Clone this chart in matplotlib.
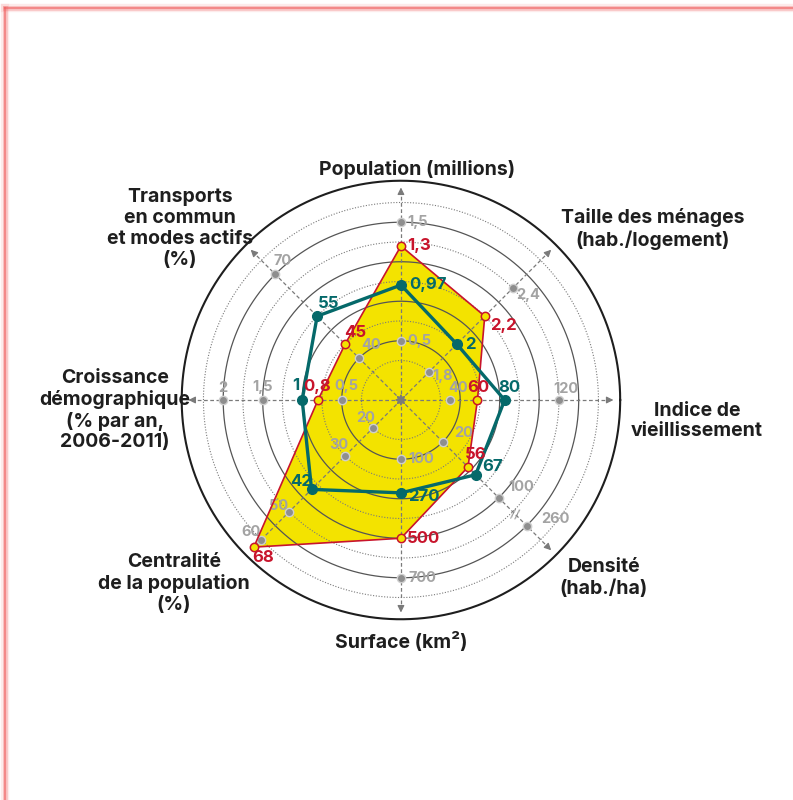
import numpy as np
import matplotlib
matplotlib.use("Agg")
import matplotlib.pyplot as plt
from matplotlib.lines import Line2D

# axes of the radar, clockwise from the top
axis_labels = [
    "Population (millions)",
    "Taille des ménages\n(hab./logement)",
    "Indice de\nvieillissement",
    "Densité\n(hab./ha)",
    "Surface (km²)",
    "Centralité\nde la population\n(%)",
    "Croissance\ndémographique\n(% par an,\n2006-2011)",
    "Transports\nen commun\net modes actifs\n(%)",
]

# two territories compared
series_red = [1.3, 2.2, 60, 56, 500, 68, 0.8, 45]
series_teal = [0.97, 2, 80, 67, 270, 42, 1, 55]

# reference ticks shown on each axis
axis_ticks = [
    [0.5, 1.5],
    [1.8, 2.4],
    [40, 120],
    [20, 100, 260],
    [100, 700],
    [20, 30, 50, 60],
    [0.5, 1.5, 2],
    [40, 70],
]

# each axis has its own (piecewise linear) scale: value -> ring unit
scale_v = [
    [0.5, 1.5],
    [1.8, 2.4],
    [40, 120],
    [20, 100, 260],
    [100, 700],
    [20, 30, 50, 60, 75],
    [0.5, 1.5, 2],
    [40, 70],
]
scale_r = [
    [3, 9],
    [2, 8],
    [2.5, 8],
    [3, 7, 9],
    [3, 9],
    [2, 4, 8, 10, 11],
    [3, 7, 9],
    [3, 9],
]

YELLOW = "#F3E300"
RED = "#C8142C"
TEAL = "#05696A"
GREY = "#8E8E8E"
GREY_TXT = "#A3A3A3"
DARK = "#1E1E1E"
FONT = "Inter"

n = len(axis_labels)
angles = np.deg2rad(90 - 45 * np.arange(n))


def to_r(i, v):
    return np.interp(v, scale_v[i], scale_r[i])


def xy(i, v):
    r = to_r(i, v)
    return r * np.cos(angles[i]), r * np.sin(angles[i])


def fmt(v):
    return f"{v:g}".replace(".", ",")


fig = plt.figure(figsize=(7.93, 8), dpi=100)
ax = fig.add_axes([0, 0, 1, 1])
ax.set_xlim(-20.30, 19.85)
ax.set_ylim(-20.25, 20.25)
ax.axis("off")

# frame
for lw, a in [(6, 0.12), (3.5, 0.25), (1.6, 0.6)]:
    fig.add_artist(Line2D([5 / 793, 1], [1 - 8 / 800, 1 - 8 / 800], color="#F06060",
                          lw=lw, alpha=a, transform=fig.transFigure))
    fig.add_artist(Line2D([5 / 793, 5 / 793], [0, 1 - 8 / 800], color="#F06060",
                          lw=lw, alpha=a, transform=fig.transFigure))

# red / yellow polygon
pts_red = np.array([xy(i, v) for i, v in enumerate(series_red)])
ax.fill(pts_red[:, 0], pts_red[:, 1], color=YELLOW, zorder=1, lw=0)

# rings
t = np.linspace(0, 2 * np.pi, 400)
for u in range(2, 11):
    if u % 2:
        ax.plot(u * np.cos(t), u * np.sin(t), color="#555555", lw=0.9, zorder=2)
    else:
        ax.plot(u * np.cos(t), u * np.sin(t), color="#7A7A7A", lw=0.8, ls=(0, (1, 1.5)), zorder=2)
ax.plot(11.1 * np.cos(t), 11.1 * np.sin(t), color=DARK, lw=1.5, zorder=2)

# axis lines with arrows
for i in range(n):
    c, s = np.cos(angles[i]), np.sin(angles[i])
    ax.plot([0, 10.6 * c], [0, 10.6 * s], color="#7A7A7A", lw=0.9, ls=(0, (3, 2)), zorder=3)
    ax.annotate("", xy=(10.9 * c, 10.9 * s), xytext=(10.4 * c, 10.4 * s),
                arrowprops=dict(arrowstyle="-|>", color="#7A7A7A", lw=0.9, mutation_scale=10),
                zorder=3)
    ax.annotate("", xy=(0.45 * c, 0.45 * s), xytext=(0, 0),
                arrowprops=dict(arrowstyle="-|>", color="#7A7A7A", lw=0.8, mutation_scale=7),
                zorder=3)

# break mark on the density axis
bx, by = 8.15 * np.cos(angles[3]), 8.15 * np.sin(angles[3])
ax.text(bx, by, "//", fontsize=9, color="#8A8A8A", ha="center", va="center",
        rotation=-10, zorder=3)

# tick markers and labels
tick_offsets = [
    [(6, 0, "left"), (6, 0, "left")],
    [(3, -4, "left"), (4, -7, "left")],
    [(8, 12, "center"), (7, 11, "center")],
    [(21, 9, "center"), (22, 11, "center"), (29, 7, "center")],
    [(7, 0, "left"), (8, 0, "left")],
    [(-7, 10, "center"), (-6, 11, "center"), (-11, 6, "center"), (-10, 8, "center")],
    [(5, 14, "center"), (0, 13, "center"), (0, 12, "center")],
    [(12, 13, "center"), (7, 13, "center")],
]
for i, ticks in enumerate(axis_ticks):
    for k, v in enumerate(ticks):
        x, y = xy(i, v)
        ax.plot(x, y, "o", ms=6, color=GREY, mec="#CFCFCF", mew=1, zorder=4)
        dx, dy, ha = tick_offsets[i][k]
        ax.annotate(fmt(v), (x, y), xytext=(dx, dy), textcoords="offset pixels",
                    ha=ha, va="center", fontsize=10.5, fontweight="bold",
                    color=GREY_TXT, family=FONT, zorder=4)

# red series outline and markers
ax.plot(np.append(pts_red[:, 0], pts_red[0, 0]), np.append(pts_red[:, 1], pts_red[0, 1]),
        color=RED, lw=1.2, zorder=5)
ax.plot(pts_red[:, 0], pts_red[:, 1], "o", ms=6, mfc=YELLOW, mec=RED, mew=1.1, zorder=7)

# teal series
pts_teal = np.array([xy(i, v) for i, v in enumerate(series_teal)])
ax.plot(np.append(pts_teal[:, 0], pts_teal[0, 0]), np.append(pts_teal[:, 1], pts_teal[0, 1]),
        color=TEAL, lw=2.4, zorder=6)
ax.plot(pts_teal[:, 0], pts_teal[:, 1], "o", ms=7, color=TEAL, zorder=7)

red_offsets = [(6, 0, "left"), (5, -9, "left"), (1, 13, "center"), (8, 13, "center"),
               (6, 0, "left"), (9, -10, "center"), (-1, 14, "center"), (10, 12, "center")]
teal_offsets = [(8, 1, "left"), (8, 0, "left"), (5, 12, "center"), (17, 8, "center"),
                (7, -4, "left"), (-10, 8, "center"), (-6, 15, "center"), (11, 13, "center")]
for i in range(n):
    dx, dy, ha = red_offsets[i]
    ax.annotate(fmt(series_red[i]), pts_red[i], xytext=(dx, dy), textcoords="offset pixels",
                ha=ha, va="center", fontsize=12, fontweight="bold", color=RED,
                family=FONT, zorder=8)
    dx, dy, ha = teal_offsets[i]
    ax.annotate(fmt(series_teal[i]), pts_teal[i], xytext=(dx, dy), textcoords="offset pixels",
                ha=ha, va="center", fontsize=12, fontweight="bold", color=TEAL,
                family=FONT, zorder=8)

# axis titles
label_pos = [(0.81, 11.65), (12.76, 8.66), (14.99, -1.06), (10.28, -9.01),
             (0.0, -12.25), (-11.5, -9.3), (-14.48, -0.51), (-11.19, 8.68)]
for lab, (x, y) in zip(axis_labels, label_pos):
    ax.text(x, y, lab, ha="center", va="center", fontsize=14, fontweight="bold",
            color=DARK, family=FONT, linespacing=1.2)

fig.savefig("out.png", dpi=100)
